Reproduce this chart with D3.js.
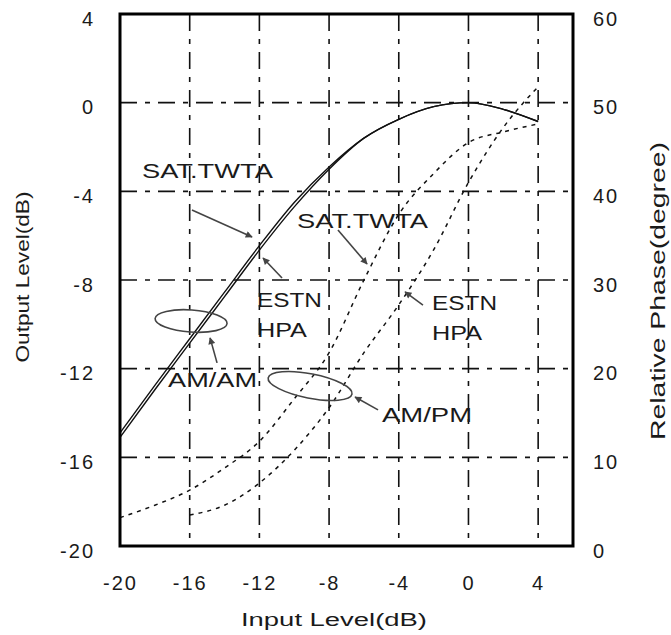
<!DOCTYPE html>
<html>
<head>
<meta charset="utf-8">
<script src="https://cdn.jsdelivr.net/npm/d3@7.9.0/dist/d3.min.js"></script>
<style>
  body { margin: 0; background: #fff; }
  svg { display: block; }
  text { font-family: "Liberation Sans", "DejaVu Sans", sans-serif; fill: #1a1a1a; }
</style>
</head>
<body>
<svg id="chart" width="671" height="635"></svg>
<script>
// input level (dB)
const inputLevels = [-20, -18, -16, -14, -12, -10, -8, -6, -4, -2, 0, 2, 4];
// AM/AM output level (dB)
const amamSat = [-14.9, -12.75, -10.65, -8.55, -6.45, -4.5, -2.9, -1.6, -0.75, -0.18, 0, -0.3, -0.85];
const amamHpa = [-15.1, -12.95, -10.85, -8.75, -6.65, -4.7, -3.0, -1.6, -0.75, -0.18, 0, -0.3, -0.85];
// AM/PM relative phase (degree)
const ampmSat = [3.2, 4.6, 6.3, 8.8, 11.8, 16.6, 21.8, 30, 37.4, 42, 45.5, 46.7, 47.6];
const hpaInput = [-16, -14, -12, -10, -8, -6, -4, -2, 0, 2, 4];
const ampmHpa = [3.5, 4.6, 7.1, 10.8, 15.6, 21.8, 27.2, 33.4, 41.0, 47.2, 51.8];

const xTicks = [-20, -16, -12, -8, -4, 0, 4];
const yTicks = [4, 0, -4, -8, -12, -16, -20];
const phaseTicks = [60, 50, 40, 30, 20, 10, 0];

// annotations in data units (input dB, output dB)
const labels = [
  { text: "SAT.TWTA", x: -18.74, y: -3.40, w: 131 },
  { text: "SAT.TWTA", x: -9.84, y: -5.65, w: 131 },
  { text: "ESTN", x: -12.14, y: -9.22, w: 65 },
  { text: "HPA", x: -12.14, y: -10.57, w: 50 },
  { text: "ESTN", x: -2.09, y: -9.35, w: 65 },
  { text: "HPA", x: -2.09, y: -10.70, w: 50 },
  { text: "AM/AM", x: -17.24, y: -12.82, w: 89 },
  { text: "AM/PM", x: -4.96, y: -14.40, w: 90 }
];
const arrows = [
  [-15.87, -4.84, -12.42, -6.06],
  [-10.70, -7.91, -11.79, -7.01],
  [-7.49, -5.74, -5.82, -7.28],
  [-2.61, -9.13, -3.64, -8.54],
  [-14.43, -11.74, -14.83, -10.61],
  [-5.19, -13.86, -6.51, -13.28]
];
const ellipses = [
  { cx: -15.92, cy: -9.85, rx: 2.07, ry: 0.5, rot: 4 },
  { cx: -9.09, cy: -12.78, rx: 2.45, ry: 0.55, rot: 11 }
];

const svg = d3.select("#chart");
const mLeft = 120, mRight = 573, mTop = 14, mBottom = 546;

const x = d3.scaleLinear().domain([-20, 6]).range([mLeft, mRight]);
const y = d3.scaleLinear().domain([-20, 4]).range([mBottom, mTop]);
const yPhase = d3.scaleLinear().domain([0, 60]).range([mBottom, mTop]);

// grid
const gridDash = "17,8,5,8";
svg.append("g").selectAll("line")
  .data(xTicks.filter(d => d > -20))
  .join("line")
  .attr("x1", d => x(d)).attr("x2", d => x(d))
  .attr("y1", mTop).attr("y2", mBottom)
  .attr("stroke", "#111").attr("stroke-width", 1.6)
  .attr("stroke-dasharray", gridDash);
svg.append("g").selectAll("line")
  .data(yTicks.filter(d => d < 4 && d > -20))
  .join("line")
  .attr("x1", mLeft).attr("x2", mRight)
  .attr("y1", d => y(d)).attr("y2", d => y(d))
  .attr("stroke", "#111").attr("stroke-width", 1.6)
  .attr("stroke-dasharray", gridDash);

// AM/PM dashed curves
const phaseLine = d3.line().x(d => x(d[0])).y(d => yPhase(d[1])).curve(d3.curveMonotoneX);
svg.append("path")
  .datum(inputLevels.map((v, i) => [v, ampmSat[i]]))
  .attr("d", phaseLine)
  .attr("fill", "none").attr("stroke", "#111").attr("stroke-width", 1.5)
  .attr("stroke-dasharray", "4,5");
svg.append("path")
  .datum(hpaInput.map((v, i) => [v, ampmHpa[i]]))
  .attr("d", phaseLine)
  .attr("fill", "none").attr("stroke", "#111").attr("stroke-width", 1.5)
  .attr("stroke-dasharray", "4,5");

// AM/AM solid curves
const outLine = d3.line().x(d => x(d[0])).y(d => y(d[1])).curve(d3.curveMonotoneX);
[amamSat, amamHpa].forEach(series => {
  svg.append("path")
    .datum(inputLevels.map((v, i) => [v, series[i]]))
    .attr("d", outLine)
    .attr("fill", "none").attr("stroke", "#111").attr("stroke-width", 1.4);
});

// ellipses
svg.append("g").selectAll("ellipse")
  .data(ellipses)
  .join("ellipse")
  .attr("cx", 0).attr("cy", 0)
  .attr("rx", d => x(d.cx + d.rx) - x(d.cx))
  .attr("ry", d => y(d.cy - d.ry) - y(d.cy))
  .attr("transform", d => `translate(${x(d.cx)},${y(d.cy)}) rotate(${d.rot})`)
  .attr("fill", "none").attr("stroke", "#444").attr("stroke-width", 1.6);

// arrows
svg.append("defs").append("marker")
  .attr("id", "head")
  .attr("viewBox", "0 0 10 10")
  .attr("refX", 9).attr("refY", 5)
  .attr("markerWidth", 9).attr("markerHeight", 7)
  .attr("markerUnits", "userSpaceOnUse")
  .attr("orient", "auto")
  .append("path").attr("d", "M0,0 L10,5 L0,10 Z").attr("fill", "#444");
svg.append("g").selectAll("line")
  .data(arrows)
  .join("line")
  .attr("x1", d => x(d[0])).attr("y1", d => y(d[1]))
  .attr("x2", d => x(d[2])).attr("y2", d => y(d[3]))
  .attr("stroke", "#444").attr("stroke-width", 1.6)
  .attr("marker-end", "url(#head)");

// labels
svg.append("g").selectAll("text")
  .data(labels)
  .join("text")
  .attr("x", d => x(d.x)).attr("y", d => y(d.y))
  .attr("font-size", 20)
  .attr("textLength", d => d.w)
  .attr("lengthAdjust", "spacingAndGlyphs")
  .text(d => d.text);

// frame
svg.append("rect")
  .attr("x", mLeft).attr("y", mTop)
  .attr("width", mRight - mLeft).attr("height", mBottom - mTop)
  .attr("fill", "none").attr("stroke", "#000").attr("stroke-width", 3);

// axes
const fmt = d => String(d);
const gx = svg.append("g").attr("transform", `translate(0,${mBottom})`)
  .call(d3.axisBottom(x).tickValues(xTicks).tickSize(0).tickPadding(30).tickFormat(fmt));
const gy = svg.append("g").attr("transform", `translate(${mLeft},0)`)
  .call(d3.axisLeft(y).tickValues(yTicks).tickSize(0).tickPadding(25).tickFormat(fmt));
const gp = svg.append("g").attr("transform", `translate(${mRight},0)`)
  .call(d3.axisRight(yPhase).tickValues(phaseTicks).tickSize(0).tickPadding(20).tickFormat(fmt));
[gx, gy, gp].forEach(g => {
  g.select(".domain").remove();
  g.selectAll("text")
    .attr("font-family", "Liberation Sans")
    .attr("font-size", 20)
    .attr("fill", "#1a1a1a")
    .style("letter-spacing", "2px");
});
gy.selectAll("text").attr("dy", "0.55em");
gp.selectAll("text").attr("dy", "0.55em");

// axis titles
svg.append("text")
  .attr("x", 334).attr("y", 626)
  .attr("text-anchor", "middle")
  .attr("font-size", 18)
  .attr("textLength", 186).attr("lengthAdjust", "spacingAndGlyphs")
  .text("Input Level(dB)");
svg.append("text")
  .attr("transform", `translate(29,277) rotate(-90)`)
  .attr("text-anchor", "middle")
  .attr("font-size", 18)
  .attr("textLength", 171).attr("lengthAdjust", "spacingAndGlyphs")
  .text("Output Level(dB)");
svg.append("text")
  .attr("transform", `translate(665,291) rotate(-90)`)
  .attr("text-anchor", "middle")
  .attr("font-size", 20)
  .attr("textLength", 298).attr("lengthAdjust", "spacingAndGlyphs")
  .text("Relative Phase(degree)");
</script>
</body>
</html>
